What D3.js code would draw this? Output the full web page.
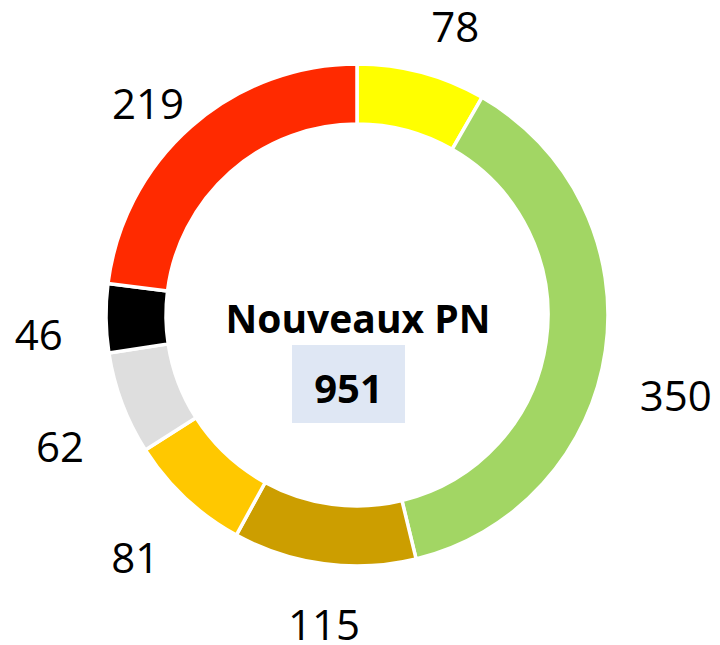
<!DOCTYPE html>
<html>
<head>
<meta charset="utf-8">
<script src="https://cdn.jsdelivr.net/npm/d3@7"></script>
<style>
  html, body { margin: 0; padding: 0; background: #fff; }
  svg { display: block; }
</style>
</head>
<body>
<svg id="chart" width="720" height="645"></svg>
<script>
// ---- data ----
const categories = ["A", "B", "C", "D", "E", "F", "G"];
// displayed value labels
const labels = [78, 350, 115, 81, 62, 46, 219];
// slice sizes as drawn in the reference (measured from the arc angles)
const sliceValues = [79, 361, 112, 76, 63, 42, 219];
const colors = ["#FFFF00", "#A2D664", "#CC9E00", "#FFC800", "#DEDEDE", "#000000", "#FF2A00"];
const centerTitle = "Nouveaux PN";
const total = d3.sum(labels);

// label placement tweaks (angle nudge in degrees, distance from centre)
const labelAngleNudge = [3.9, 6.2, -1.5, -0.75, -3.4, -2.85, -3.3];
const labelDistance = [304, 329, 312, 329, 325, 319, 297];

// ---- layout ----
const cx = 357, cy = 315;
const outerR = 251, innerR = 191;

const svg = d3.select("#chart");
const g = svg.append("g").attr("transform", `translate(${cx},${cy})`);

const data = categories.map((c, i) => ({ cat: c, value: sliceValues[i], label: labels[i], color: colors[i], i }));

const pie = d3.pie().value(d => d.value).sort(null).startAngle(0).endAngle(2 * Math.PI);
const arcs = pie(data);

const arc = d3.arc().innerRadius(innerR).outerRadius(outerR);

g.selectAll("path.slice")
  .data(arcs)
  .join("path")
  .attr("class", "slice")
  .attr("d", arc)
  .attr("fill", d => d.data.color)
  .attr("stroke", "#ffffff")
  .attr("stroke-width", 3.5)
  .attr("stroke-linejoin", "miter");

function labelAngle(d) {
  return (d.startAngle + d.endAngle) / 2 + labelAngleNudge[d.data.i] * Math.PI / 180;
}

// value labels
g.selectAll("text.val")
  .data(arcs)
  .join("text")
  .attr("class", "val")
  .attr("x", d => Math.sin(labelAngle(d)) * labelDistance[d.data.i])
  .attr("y", d => -Math.cos(labelAngle(d)) * labelDistance[d.data.i] + 15)
  .attr("text-anchor", "middle")
  .attr("font-family", "'Open Sans', sans-serif")
  .attr("font-size", 42)
  .attr("fill", "#000")
  .text(d => d.data.label);

// centre title
g.append("text")
  .attr("x", 1)
  .attr("y", 18)
  .attr("text-anchor", "middle")
  .attr("font-family", "'Open Sans', sans-serif")
  .attr("font-weight", "bold")
  .attr("font-size", 39)
  .attr("fill", "#000")
  .text(centerTitle);

// total box
g.append("rect")
  .attr("x", 292 - cx)
  .attr("y", 345 - cy)
  .attr("width", 113)
  .attr("height", 78)
  .attr("fill", "#DFE7F4");

g.append("text")
  .attr("x", 348.5 - cx)
  .attr("y", 403 - cy)
  .attr("text-anchor", "middle")
  .attr("font-family", "'Open Sans', sans-serif")
  .attr("font-weight", "bold")
  .attr("font-size", 40)
  .attr("fill", "#000")
  .text(total);
</script>
</body>
</html>
